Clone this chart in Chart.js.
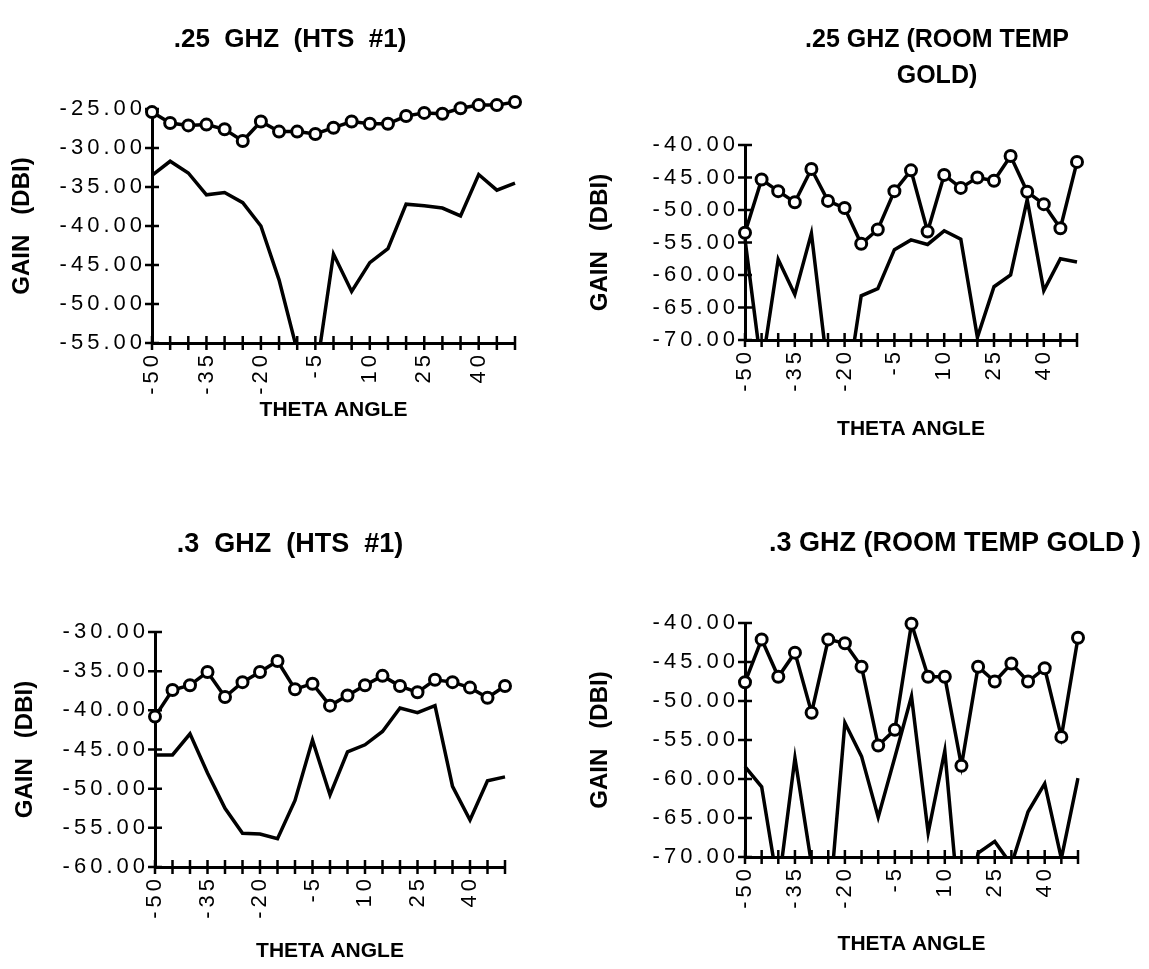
<!DOCTYPE html>
<html>
<head>
<meta charset="utf-8">
<script src="https://cdn.jsdelivr.net/npm/chart.js@4.4.1/dist/chart.umd.min.js"></script>
<style>
html,body{margin:0;padding:0;background:#fff;}
#wrap{position:relative;width:1149px;height:969px;overflow:hidden;background:#fff;}
canvas{position:absolute;}
</style>
</head>
<body>
<div id="wrap">
<canvas id="c1"></canvas>
<canvas id="c2"></canvas>
<canvas id="c3"></canvas>
<canvas id="c4"></canvas>
</div>
<script>
// ---------- DATA ----------
const theta = [-50,-45,-40,-35,-30,-25,-20,-15,-10,-5,0,5,10,15,20,25,30,35,40,45,50];
const xTickLabels = ['-50','-35','-20','-5','10','25','40'];
const yAxisTitle = 'GAIN   (DBI)';
const xAxisTitle = 'THETA ANGLE';

const p1Title = ['.25  GHZ  (HTS  #1)'];
const p1YTicks = [-55,-50,-45,-40,-35,-30,-25];
const p1Circles = [-25.4,-26.8,-27.1,-27.0,-27.6,-29.1,-26.6,-27.9,-27.9,-28.2,-27.4,-26.6,-26.9,-26.9,-25.9,-25.5,-25.6,-24.9,-24.5,-24.5,-24.1];
const p1Line    = [-33.5,-31.7,-33.2,-36.0,-35.7,-37.0,-40.0,-46.9,-56.0,-59.5,-43.6,-48.4,-44.7,-42.9,-37.2,-37.4,-37.7,-38.7,-33.4,-35.4,-34.5];

const p2Title = ['.25 GHZ (ROOM TEMP', 'GOLD)'];
const p2YTicks = [-70,-65,-60,-55,-50,-45,-40];
const p2Circles = [-53.5,-45.3,-47.1,-48.8,-43.7,-48.6,-49.7,-55.2,-53.0,-47.1,-43.9,-53.3,-44.6,-46.6,-45.0,-45.5,-41.7,-47.2,-49.1,-52.8,-42.6];
const p2Line    = [-54.5,-74.5,-57.6,-63.0,-53.6,-75.0,-80.0,-63.2,-62.1,-56.1,-54.6,-55.3,-53.2,-54.5,-69.6,-61.8,-60.0,-48.4,-62.4,-57.5,-58.0];

const p3Title = ['.3  GHZ  (HTS  #1)'];
const p3YTicks = [-60,-55,-50,-45,-40,-35,-30];
const p3Circles = [-40.8,-37.4,-36.8,-35.1,-38.3,-36.4,-35.1,-33.7,-37.3,-36.6,-39.4,-38.1,-36.8,-35.6,-36.9,-37.7,-36.1,-36.4,-37.1,-38.4,-36.9];
const p3Line    = [-45.7,-45.7,-43.0,-48.0,-52.5,-55.7,-55.8,-56.4,-51.5,-43.8,-50.8,-45.3,-44.4,-42.7,-39.7,-40.3,-39.4,-49.7,-54.0,-49.0,-48.5];

const p4Title = ['.3 GHZ (ROOM TEMP GOLD )'];
const p4YTicks = [-70,-65,-60,-55,-50,-45,-40];
const p4Circles = [-47.6,-42.1,-46.9,-43.8,-51.5,-42.1,-42.6,-45.6,-55.7,-53.7,-40.1,-46.9,-46.9,-58.3,-45.6,-47.5,-45.2,-47.5,-45.8,-54.6,-41.9];
const p4Line    = [-58.4,-61.0,-74.0,-57.3,-71.0,-78.0,-52.8,-57.1,-64.9,-57.2,-49.4,-66.9,-56.4,-80.0,-69.5,-68.0,-71.0,-64.2,-60.6,-70.2,-59.9];

// ---------- LAYOUT / STYLE ----------
const FONT = '"Liberation Sans", Arial, Helvetica, sans-serif';
const panels = [
  {id:'c1', left:0,   top:0,   w:580, h:423, title:p1Title, tSize:26, tLH:31.2, tPadTop:24.4, tPadBot:53.4, yW:152, rW:65,  xH:80,  yTPad:7.6,  yTicks:p1YTicks, circles:p1Circles, line:p1Line},
  {id:'c2', left:580, top:0,   w:714, h:442, title:p2Title, tSize:25, tLH:36,   tPadTop:22,   tPadBot:51,   yW:165, rW:217, xH:102, yTPad:5.6,  yTicks:p2YTicks, circles:p2Circles, line:p2Line},
  {id:'c3', left:0,   top:490, w:580, h:474, title:p3Title, tSize:27, tLH:32.4, tPadTop:38.8, tPadBot:70.8, yW:155, rW:75,  xH:97,  yTPad:10.6, yTicks:p3YTicks, circles:p3Circles, line:p3Line},
  {id:'c4', left:580, top:490, w:750, h:467, title:p4Title, tSize:27, tLH:32.4, tPadTop:37.8, tPadBot:62.8, yW:165, rW:252, xH:100, yTPad:5.6,  yTicks:p4YTicks, circles:p4Circles, line:p4Line}
];

const crossTicks = {
  id: 'crossTicks',
  beforeDatasetsDraw(chart) {
    const ctx = chart.ctx, a = chart.chartArea, xs = chart.scales.x, ys = chart.scales.y;
    ctx.save();
    ctx.strokeStyle = '#000';
    ctx.lineWidth = 2.5;
    ctx.beginPath();
    ys.ticks.forEach(t => { const py = ys.getPixelForValue(t.value); ctx.moveTo(a.left - 7, py); ctx.lineTo(a.left + 7, py); });
    xs.ticks.forEach((t, i) => { const px = xs.getPixelForTick(i); ctx.moveTo(px, a.bottom - 7); ctx.lineTo(px, a.bottom + 7); });
    ctx.stroke();
    ctx.restore();
  },
  afterDatasetsDraw(chart) { chart.ctx.letterSpacing = '4px'; },
  afterDraw(chart) { chart.ctx.letterSpacing = '0px'; }
};

panels.forEach(p => {
  const cv = document.getElementById(p.id);
  cv.width = p.w; cv.height = p.h;
  cv.style.left = p.left + 'px'; cv.style.top = p.top + 'px';
  cv.style.width = p.w + 'px'; cv.style.height = p.h + 'px';
  new Chart(cv, {
    type: 'line',
    data: {
      labels: theta.map(String),
      datasets: [
        {data: p.circles, borderColor:'#000', borderWidth:3.5, pointRadius:5.5, pointBorderWidth:3,
         pointBackgroundColor:'#fff', pointBorderColor:'#000', tension:0, clip:false, yAxisID:'y'},
        {data: p.line, borderColor:'#000', borderWidth:3.5, pointRadius:0, tension:0, yAxisID:'y'}
      ]
    },
    options: {
      responsive:false, animation:false, devicePixelRatio:1,
      layout:{padding:0},
      plugins:{
        legend:{display:false}, tooltip:{enabled:false},
        title:{display:true, text:p.title, color:'#000',
               font:{family:FONT, size:p.tSize, weight:'bold', lineHeight:p.tLH + 'px'},
               padding:{top:p.tPadTop, bottom:p.tPadBot}}
      },
      scales:{
        x:{type:'category', offset:false,
           grid:{display:false, drawTicks:false},
           border:{display:true, color:'#000', width:3},
           ticks:{autoSkip:false, minRotation:90, maxRotation:90, padding:8, color:'#000', z:1,
                  font:{family:FONT, size:22},
                  callback:(v, i) => { const l = String(theta[i]); return xTickLabels.includes(l) ? l : ''; }},
           title:{display:true, text:xAxisTitle, color:'#000', padding:0,
                  font:{family:FONT, size:21, weight:'bold', lineHeight:1.2}},
           afterFit:s => { s.height = p.xH; }},
        y:{type:'linear', position:'left', min:p.yTicks[0], max:p.yTicks[p.yTicks.length-1],
           grid:{display:false, drawTicks:false},
           border:{display:true, color:'#000', width:3},
           ticks:{stepSize:5, padding:6, color:'#000', z:1, font:{family:FONT, size:22},
                  callback:v => v.toFixed(2)},
           title:{display:true, text:yAxisTitle, color:'#000', padding:{top:p.yTPad, bottom:0},
                  font:{family:FONT, size:24, weight:'bold', lineHeight:1.2}},
           afterFit:s => { s.width = p.yW; }},
        yR:{type:'linear', position:'right', display:true,
            grid:{display:false, drawTicks:false}, border:{display:false}, ticks:{display:false},
            afterFit:s => { s.width = p.rW; }}
      }
    },
    plugins:[crossTicks]
  });
});
</script>
</body>
</html>
